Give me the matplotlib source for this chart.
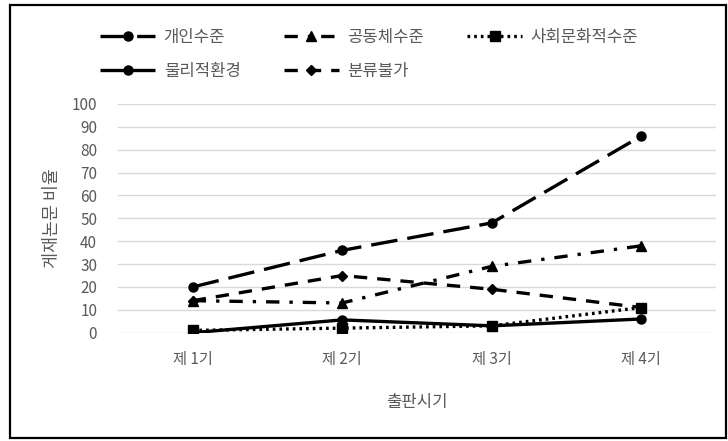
import matplotlib
matplotlib.use("Agg")
import matplotlib.pyplot as plt
from matplotlib.patches import Rectangle

plt.rcParams['font.family'] = ['Noto Sans CJK KR', 'DejaVu Sans']

categories = ["제 1기", "제 2기", "제 3기", "제 4기"]
series_names = ["개인수준", "공동체수준", "사회문화적수준", "물리적환경", "분류불가"]
individual = [20, 36, 48, 86]
community = [14, 13, 29, 38]
sociocultural = [1, 2, 3, 11]
physical = [0, 5.6, 3, 6]
unclassified = [14, 25, 19, 11]
yticks = [0, 10, 20, 30, 40, 50, 60, 70, 80, 90, 100]

W, H = 728, 441
fig = plt.figure(figsize=(W / 100, H / 100), dpi=100)
ax = fig.add_axes([118 / W, 1 - 332.7 / H, (716 - 118) / W, (332.7 - 104) / H])

gray = "#595959"
lw = 2.4
x = list(range(len(categories)))
styles = [
    (individual, (0, (8, 3)), "o", 6.5),
    (community, (0, (4, 3, 1, 3)), "^", 6.5),
    (sociocultural, (0, (0.8, 1.2)), "s", 6.5),
    (physical, "solid", "o", 6.5),
    (unclassified, (0, (4, 3)), "D", 5),
]
handles = []
for name, (vals, ls, mk, ms) in zip(series_names, styles):
    h, = ax.plot(x, vals, color="black", linewidth=lw, linestyle=ls,
                 marker=mk, markersize=ms, label=name,
                 dash_capstyle="butt", solid_capstyle="butt")
    handles.append(h)

ax.set_xlim(-0.5, 3.5)
ax.set_ylim(0, 100)
ax.set_yticks(yticks)
ax.set_yticklabels([str(v) for v in yticks], color=gray, fontsize=11)
ax.set_xticks(x)
ax.set_xticklabels(categories, color=gray, fontsize=11)
ax.tick_params(axis="both", length=0)
ax.tick_params(axis="x", pad=13)
ax.tick_params(axis="y", pad=15)
ax.grid(axis="y", color="#d9d9d9", linewidth=1)
ax.set_axisbelow(True)
for s in ax.spines.values():
    s.set_visible(False)

fig.text(417 / W, 1 - 402 / H, "출판시기", ha="center", va="center",
         color=gray, fontsize=12)
fig.text(52 / W, 1 - 218 / H, "게재논문 비율", ha="center", va="center",
         rotation=90, color=gray, fontsize=12.5)

# legend filled column-wise: arrange so rows read 개인, 공동체, 사회문화 / 물리적, 분류불가
order = [0, 3, 1, 4, 2]
leg = fig.legend(handles=[handles[i] for i in order],
                 labels=[series_names[i] for i in order], ncol=3,
                 loc="upper left", bbox_to_anchor=(92 / W, 1 - 21 / H),
                 frameon=False, fontsize=12, handlelength=3.3, borderpad=0,
                 handletextpad=0.5, columnspacing=2.6, labelspacing=1.0)
for t in leg.get_texts():
    t.set_color(gray)

fig.patches.append(Rectangle((10 / W, 1 - 438 / H), (726 - 10) / W, (438 - 5) / H,
                             transform=fig.transFigure, fill=False,
                             edgecolor="black", linewidth=1.6))

fig.savefig("out.png", dpi=100)
